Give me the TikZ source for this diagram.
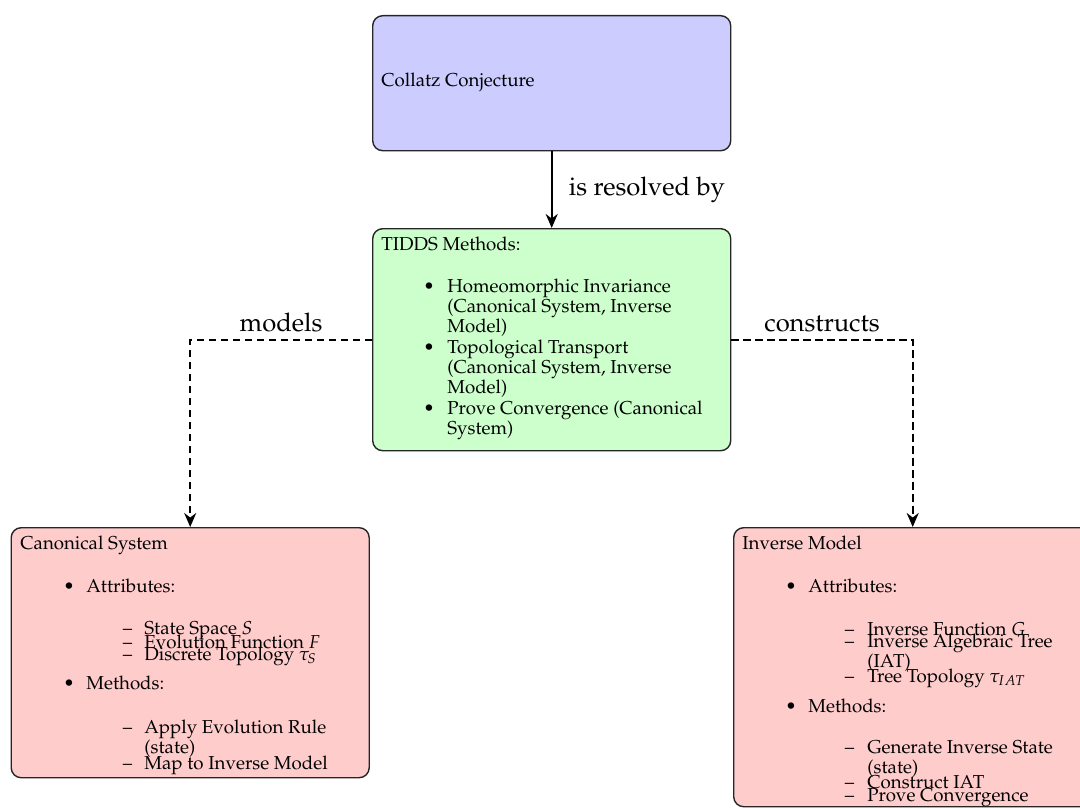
\documentclass[tikz,border=0pt]{standalone}
\usepackage[T1]{fontenc}
\usepackage{mathpazo}
\usetikzlibrary{arrows.meta}

\tikzset{
  box/.style={draw=black!85, line width=0.7pt, rounded corners=5pt, rectangle,
    minimum width=179pt, inner sep=0pt, anchor=north west},
  blubox/.style={box, fill=blue!20},
  grnbox/.style={box, fill=green!20},
  redbox/.style={box, fill=red!20},
  txt/.style={anchor=base west, inner sep=0pt, font=\fontsize{9.35}{11}\selectfont},
  glyph/.style={anchor=base, inner sep=0pt, font=\fontsize{9.35}{11}\selectfont},
  lbl/.style={font=\fontsize{12.8}{15}\selectfont},
  tip/.style={-{Stealth[length=7pt, width=6pt]}},
  solidarrow/.style={line width=1pt, tip},
  dasharrow/.style={line width=1pt, dash pattern=on 3.6pt off 2.4pt, tip},
}

\begin{document}
\begin{tikzpicture}[x=0.5pt, y=-0.5pt]
\useasboundingbox (0,0) rectangle (1080,808);

% boxes
\node[blubox, minimum height=67.5pt] (conj) at (372,15) {};
\node[grnbox, minimum height=111pt] (tidds) at (372,228) {};
\node[redbox, minimum height=125pt] (canon) at (10.5,527) {};
\node[redbox, minimum height=139.5pt] (inv) at (733,527) {};

% connectors
\draw[solidarrow] (conj) -- node[midway, right=4.75pt, lbl] (lres) {is resolved by} (tidds);
\draw[dasharrow] (tidds.west) -| node[pos=0.25, above, lbl] (lmod) {models} (canon.north);
\draw[dasharrow] (tidds.east) -| node[pos=0.25, above, lbl] (lcon) {constructs} (inv.north);

% Collatz Conjecture
\node[txt] (t1) at (381,87) {Collatz Conjecture};

% TIDDS methods
\node[txt] (t2) at (381,250) {TIDDS Methods:};
\node[glyph] (b21) at (429,292) {\textbullet};
\node[txt] (t21a) at (447,292) {Homeomorphic Invariance};
\node[txt] (t21b) at (447,312) {(Canonical System, Inverse};
\node[txt] (t21c) at (447,332) {Model)};
\node[glyph] (b22) at (429,353) {\textbullet};
\node[txt] (t22a) at (447,353) {Topological Transport};
\node[txt] (t22b) at (447,373) {(Canonical System, Inverse};
\node[txt] (t22c) at (447,393) {Model)};
\node[glyph] (b23) at (429,414) {\textbullet};
\node[txt] (t23a) at (447,414) {Prove Convergence (Canonical};
\node[txt] (t23b) at (447,434) {System)};

% Canonical System
\node[txt] (t3) at (20,549) {Canonical System};
\node[glyph] (b31) at (69,592) {\textbullet};
\node[txt] (t31) at (86,592) {Attributes:};
\node[glyph] (d311) at (127.5,634) {\textendash};
\node[txt] (t311) at (144,634) {State Space $S$};
\node[glyph] (d312) at (127.5,648) {\textendash};
\node[txt] (t312) at (144,648) {Evolution Function $F$};
\node[glyph] (d313) at (127.5,660) {\textendash};
\node[txt] (t313) at (144,660) {Discrete Topology $\tau_S$};
\node[glyph] (b32) at (69,689) {\textbullet};
\node[txt] (t32) at (86,689) {Methods:};
\node[glyph] (d321) at (127.5,733) {\textendash};
\node[txt] (t321a) at (144,733) {Apply Evolution Rule};
\node[txt] (t321b) at (144,753) {(state)};
\node[glyph] (d322) at (127.5,769) {\textendash};
\node[txt] (t322) at (144,769) {Map to Inverse Model};

% Inverse Model
\node[txt] (t4) at (742,549) {Inverse Model};
\node[glyph] (b41) at (791,592) {\textbullet};
\node[txt] (t41) at (808,592) {Attributes:};
\node[glyph] (d411) at (849.5,635) {\textendash};
\node[txt] (t411) at (867,635) {Inverse Function $G$};
\node[glyph] (d412) at (849.5,647) {\textendash};
\node[txt] (t412a) at (867,647) {Inverse Algebraic Tree};
\node[txt] (t412b) at (867,667) {(IAT)};
\node[glyph] (d413) at (849.5,682) {\textendash};
\node[txt] (t413) at (867,682) {Tree Topology $\tau_{IAT}$};
\node[glyph] (b42) at (791,712) {\textbullet};
\node[txt] (t42) at (808,712) {Methods:};
\node[glyph] (d421) at (849.5,753) {\textendash};
\node[txt] (t421a) at (867,753) {Generate Inverse State};
\node[txt] (t421b) at (867,773) {(state)};
\node[glyph] (d422) at (849.5,788) {\textendash};
\node[txt] (t422) at (867,788) {Construct IAT};
\node[glyph] (d423) at (849.5,801) {\textendash};
\node[txt] (t423) at (867,801) {Prove Convergence};
\end{tikzpicture}
\end{document}
